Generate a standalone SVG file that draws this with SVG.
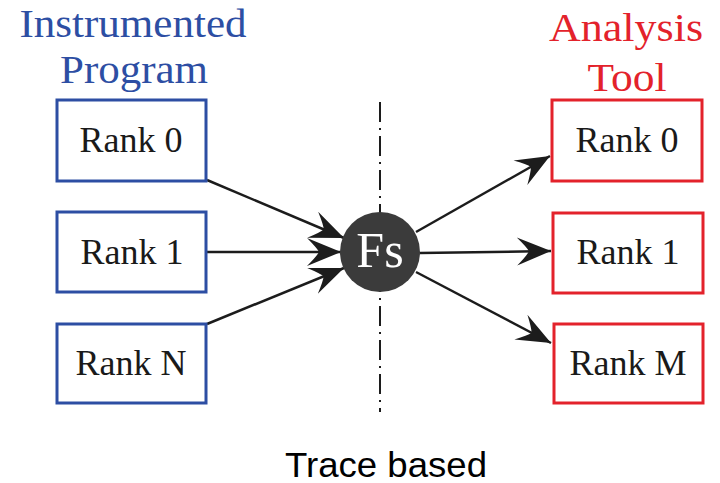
<svg xmlns="http://www.w3.org/2000/svg" width="720" height="483" viewBox="0 0 720 483">
  <style>
    .src { fill: #ffffff; stroke: #2d4ea3; stroke-width: 3; }
    .dst { fill: #ffffff; stroke: #e3222b; stroke-width: 3; }
    .lbl { font-family: "Liberation Serif", "Times New Roman", serif; font-size: 36px; fill: #1a1a1a; text-anchor: middle; }
    .head { font-family: "Liberation Serif", "Times New Roman", serif; font-size: 40px; text-anchor: middle; }
    .edge { stroke: #1c1c1c; stroke-width: 2.5; fill: none; marker-end: url(#stealth); }
  </style>
  <defs>
    <marker id="stealth" markerUnits="userSpaceOnUse" viewBox="-36 -16 38 32" refX="0" refY="0" markerWidth="38" markerHeight="32" orient="auto">
      <path d="M0,0 L-34,-14 Q-24,-4 -22,0 Q-24,4 -34,14 Z" fill="#1c1c1c"/>
    </marker>
  </defs>
  <rect width="720" height="483" fill="#ffffff"/>

  <!-- column headings -->
  <g id="heading-program" fill="#2d4ea3">
    <text class="head" x="133" y="37" textLength="227" lengthAdjust="spacingAndGlyphs">Instrumented</text>
    <text class="head" x="134" y="83" textLength="148" lengthAdjust="spacingAndGlyphs">Program</text>
  </g>
  <g id="heading-tool" fill="#e3222b">
    <text class="head" x="626" y="41" textLength="154" lengthAdjust="spacingAndGlyphs">Analysis</text>
    <text class="head" x="627" y="91" textLength="79" lengthAdjust="spacingAndGlyphs">Tool</text>
  </g>

  <!-- dash-dot separator through the file system -->
  <line x1="380" y1="102" x2="380" y2="412" stroke="#1c1c1c" stroke-width="2" stroke-dasharray="20 6 2 6"/>

  <!-- connectors -->
  <g id="connectors">
    <line class="edge" x1="207" y1="180" x2="344" y2="238"/>
    <line class="edge" x1="207" y1="252" x2="341" y2="252"/>
    <line class="edge" x1="207" y1="324" x2="344" y2="268"/>
    <line class="edge" x1="416" y1="232" x2="550" y2="156"/>
    <line class="edge" x1="420" y1="253" x2="551" y2="251"/>
    <line class="edge" x1="416" y1="272" x2="551" y2="343"/>
  </g>

  <!-- shared file system -->
  <g id="fs">
    <circle cx="380" cy="252" r="40" fill="#3b3b3b"/>
    <text x="380" y="267" font-family="'Liberation Serif', 'Times New Roman', serif" font-size="50" fill="#ffffff" text-anchor="middle">Fs</text>
  </g>

  <!-- instrumented program ranks -->
  <g id="src-rank0">
    <rect class="src" x="57" y="100" width="149" height="81"/>
    <text class="lbl" x="131" y="152">Rank 0</text>
  </g>
  <g id="src-rank1">
    <rect class="src" x="57" y="212" width="149" height="80"/>
    <text class="lbl" x="132" y="264">Rank 1</text>
  </g>
  <g id="src-rankN">
    <rect class="src" x="57" y="324" width="149" height="79"/>
    <text class="lbl" x="131" y="375">Rank N</text>
  </g>

  <!-- analysis tool ranks -->
  <g id="dst-rank0">
    <rect class="dst" x="552" y="100" width="150" height="81"/>
    <text class="lbl" x="627" y="152">Rank 0</text>
  </g>
  <g id="dst-rank1">
    <rect class="dst" x="553" y="213" width="150" height="80"/>
    <text class="lbl" x="628" y="264">Rank 1</text>
  </g>
  <g id="dst-rankM">
    <rect class="dst" x="554" y="324" width="149" height="79"/>
    <text class="lbl" x="628" y="375">Rank M</text>
  </g>

  <!-- caption -->
  <text x="386" y="477" font-family="'Liberation Sans', Arial, sans-serif" font-size="35" fill="#000000" text-anchor="middle" textLength="202" lengthAdjust="spacingAndGlyphs">Trace based</text>
</svg>
